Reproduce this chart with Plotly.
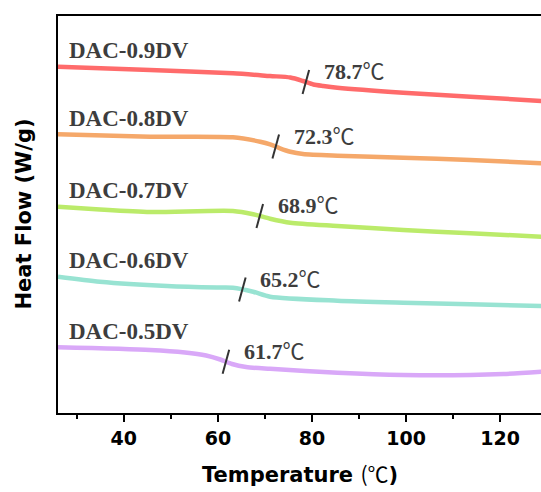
import numpy as np
import plotly.graph_objects as go

# ---- data (heat flow in arbitrary, vertically offset units) ----
names = ["DAC-0.9DV", "DAC-0.8DV", "DAC-0.7DV", "DAC-0.6DV", "DAC-0.5DV"]
colors = ["#FF6B6B", "#F5A86A", "#BBEB6A", "#98E3D2", "#D9A8F8"]
tg = [78.7, 72.3, 68.9, 65.2, 61.7]
tg_labels = ["78.7", "72.3", "68.9", "65.2", "61.7"]

t_09 = [26, 45.6, 63.2, 71.1, 75.4, 78.1, 80.3, 82.4, 85.4, 99.4, 113.7, 128.8]
h_09 = [346.3, 343, 339.7, 337, 335.5, 332, 328.5, 327, 325.3, 320.3, 316.3, 312]

t_08 = [26, 45.6, 63.2, 69.0, 71.1, 73.2, 75.4, 78.1, 85.4, 99.4, 113.7, 128.8]
h_08 = [278.7, 276.3, 275.7, 271.3, 268.7, 264.7, 261.3, 259, 257.3, 255.3, 253, 249.7]

t_07 = [26, 34.9, 45.6, 63.2, 67.5, 71.1, 75.4, 85.4, 99.4, 113.7, 128.8]
h_07 = [206.3, 203.5, 201, 202, 198.7, 194.3, 190.3, 187, 183, 179.7, 176.3]

t_06 = [26, 34.9, 49.2, 59.8, 63.2, 67.5, 71.1, 85.4, 99.4, 113.7, 128.8]
h_06 = [136.3, 131.3, 127, 125.5, 125.3, 121.3, 116.3, 112.3, 110.3, 108.7, 107]

t_05 = [26, 45.6, 53.0, 57.5, 60.5, 63.0, 66.0, 71.1, 85.4, 99.4, 113.7, 120.7, 128.8]
h_05 = [65.7, 63, 60.5, 57.5, 53.5, 49.0, 46.0, 44.2, 40.3, 38, 38, 39, 41.3]

temps = [t_09, t_08, t_07, t_06, t_05]
flows = [h_09, h_08, h_07, h_06, h_05]

X_RANGE = [26, 128.7]
Y_RANGE = [0, 397]

DEG = '<span style="font-family:\'Noto Sans CJK SC\';font-weight:normal">℃</span>'

fig = go.Figure()
annotations = []
name_font = dict(family="Liberation Serif", size=23, color="#3d3d3d", weight="bold")
tg_font = dict(family="Liberation Serif", size=22, color="#3d3d3d", weight="bold")

for name, col, t, h, g, gl in zip(names, colors, temps, flows, tg, tg_labels):
    fig.add_trace(go.Scatter(x=t, y=h, mode="lines", name=name,
                             line=dict(color=col, width=4.5, shape="spline", smoothing=0.7),
                             showlegend=False, hoverinfo="skip"))
    yg = float(np.interp(g, t, h))
    # slanted marker at Tg
    fig.add_trace(go.Scatter(x=[g - 0.7, g + 0.7], y=[yg - 12, yg + 12], mode="lines",
                             line=dict(color="#333333", width=2),
                             showlegend=False, hoverinfo="skip"))
    annotations.append(dict(x=g, y=yg, xref="x", yref="y", text=gl + DEG, showarrow=False,
                            xanchor="left", yanchor="middle", xshift=16, yshift=13,
                            font=tg_font))
    annotations.append(dict(x=X_RANGE[0], y=h[0], xref="x", yref="y", text=name,
                            showarrow=False, xanchor="left", yanchor="middle",
                            xshift=9, yshift=16, font=name_font))

sans_bold = dict(family="DejaVu Sans", size=21, color="black", weight="bold")
annotations.append(dict(x=0.5, y=0, xref="paper", yref="paper",
                        text='Temperature <span style="font-family:\'Noto Sans CJK SC\';font-weight:normal">(℃</span>)',
                        showarrow=False, xanchor="center", yanchor="middle", yshift=-60,
                        font=sans_bold))
annotations.append(dict(x=0, y=0.5, xref="paper", yref="paper", text="Heat Flow (W/g)",
                        showarrow=False, xanchor="center", yanchor="middle", xshift=-35,
                        textangle=-90, font=sans_bold))

fig.update_layout(
    width=541, height=492,
    margin=dict(l=58, r=0, t=16, b=79),
    paper_bgcolor="white", plot_bgcolor="white",
    annotations=annotations,
    xaxis=dict(range=X_RANGE, showgrid=False, zeroline=False,
               showline=True, linecolor="black", linewidth=2, mirror=True,
               ticks="outside", ticklen=7, tickwidth=2, tickcolor="black",
               tick0=0, dtick=20,
               minor=dict(ticks="outside", ticklen=4, tickwidth=2, tickcolor="black", dtick=10),
               tickfont=dict(family="DejaVu Sans", size=19, color="black", weight="bold")),
    yaxis=dict(range=Y_RANGE, showgrid=False, zeroline=False,
               showline=True, linecolor="black", linewidth=2, mirror=False,
               ticks="", showticklabels=False),
)

fig.write_html("out.html", config={"displayModeBar": False},
               post_script="document.body.style.margin='0';document.body.style.overflow='hidden';")
